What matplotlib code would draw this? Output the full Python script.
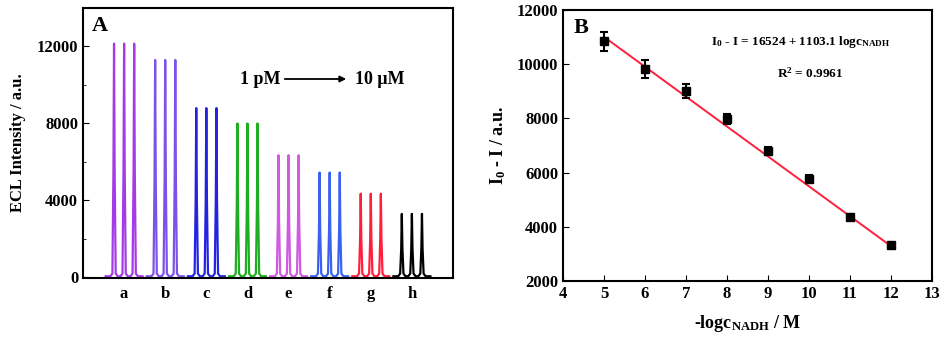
import numpy as np
import matplotlib.pyplot as plt
from matplotlib.ticker import MultipleLocator

# panel A: ECL peak heights for each concentration (three repeat scans)
groups = ["a", "b", "c", "d", "e", "f", "g", "h"]
peak_heights = [12150, 11300, 8800, 8000, 6350, 5450, 4350, 3300]
peak_colors = ["#a53be6", "#7d52e8", "#2424e0", "#1fae1f",
               "#d05be0", "#3a62f0", "#ff1f3d", "#000000"]

# panel B: calibration points
neg_log_c = [5, 6, 7, 8, 9, 10, 11, 12]
delta_i = [10850, 9820, 9020, 7980, 6800, 5780, 4380, 3320]
delta_err = [350, 320, 250, 200, 150, 120, 80, 60]
fit_intercept = 16524
fit_slope = 1103.1

serif = ["Liberation Serif", "DejaVu Serif"]
plt.rcParams["font.family"] = serif
plt.rcParams["font.weight"] = "bold"
plt.rcParams["mathtext.fontset"] = "custom"
plt.rcParams["mathtext.rm"] = "Liberation Serif:bold"
plt.rcParams["mathtext.it"] = "Liberation Serif:bold"
plt.rcParams["mathtext.bf"] = "Liberation Serif:bold"

fig = plt.figure(figsize=(9.44, 3.42), dpi=100)
axA = fig.add_axes([83 / 944, 1 - 278 / 342, 370 / 944, 270 / 342])
axB = fig.add_axes([563 / 944, 1 - 281 / 342, 369 / 944, 271 / 342])

# --- panel A ---
offsets = [-0.245, 0.0, 0.245]
for i, (h, c) in enumerate(zip(peak_heights, peak_colors)):
    center = i + 1
    xs = [center - 0.45]
    ys = [60]
    for off in offsets:
        p = center + off
        xs += [p - 0.09, p - 0.04, p - 0.015, p, p + 0.015, p + 0.04, p + 0.09]
        ys += [60, 200, 0.45 * h, h, 0.45 * h, 200, 60]
    xs.append(center + 0.45)
    ys.append(60)
    axA.plot(xs, ys, color=c, lw=1.6)

axA.set_xlim(0, 9)
axA.set_ylim(-30, 14000)
axA.set_xticks(range(1, 9))
axA.set_xticklabels(groups)
axA.tick_params(axis="x", length=0, labelsize=12, pad=6)
axA.yaxis.set_major_locator(MultipleLocator(4000))
axA.yaxis.set_minor_locator(MultipleLocator(2000))
axA.tick_params(axis="y", which="both", direction="in", labelsize=12)
axA.tick_params(axis="y", which="major", length=4)
axA.tick_params(axis="y", which="minor", length=2.5)
axA.set_ylabel("ECL Intensity / a.u.", fontsize=12, fontweight="bold", labelpad=8)
axA.text(0.025, 0.97, "A", transform=axA.transAxes, fontsize=16,
         fontweight="bold", va="top", ha="left")
axA.annotate("", xy=(349, 342 - 79), xytext=(282, 342 - 79),
             xycoords="figure pixels", textcoords="figure pixels",
             arrowprops=dict(arrowstyle="-|>", color="black", lw=1.3,
                             mutation_scale=9))
fig.text(281 / 944, 1 - 79 / 342, "1 pM", ha="right", va="center",
         fontsize=13, fontweight="bold")
fig.text(355 / 944, 1 - 79 / 342, "10 μM", ha="left", va="center",
         fontsize=13, fontweight="bold")

# --- panel B ---
xfit = np.array([neg_log_c[0], neg_log_c[-1]])
axB.plot(xfit, fit_intercept - fit_slope * xfit, color="#ff1f3d", lw=1.4, zorder=2)
axB.errorbar(neg_log_c, delta_i, yerr=delta_err, fmt="s", color="black",
             ms=6, capsize=3, elinewidth=1.5, capthick=1.5, zorder=3)
axB.set_xlim(4, 13)
axB.set_ylim(2000, 12000)
axB.xaxis.set_major_locator(MultipleLocator(1))
axB.yaxis.set_major_locator(MultipleLocator(2000))
axB.tick_params(direction="in", length=4, labelsize=12)
axB.set_xlabel("-logc$_{\\mathrm{NADH}}$ / M", fontsize=13, fontweight="bold", labelpad=8)
axB.set_ylabel("I$_0$ - I / a.u.", fontsize=13, fontweight="bold", labelpad=6)
axB.text(0.03, 0.97, "B", transform=axB.transAxes, fontsize=16,
         fontweight="bold", va="top", ha="left")
axB.text(0.645, 0.87, "I$_0$ - I = 16524 + 1103.1 logc$_{\\mathrm{NADH}}$",
         transform=axB.transAxes, fontsize=9.5, fontweight="bold", ha="center")
axB.text(0.67, 0.75, "R$^2$ = 0.9961", transform=axB.transAxes,
         fontsize=9.5, fontweight="bold", ha="center")

for ax in (axA, axB):
    for s in ax.spines.values():
        s.set_linewidth(1.5)
    for lab in ax.get_xticklabels() + ax.get_yticklabels():
        lab.set_fontweight("bold")

fig.savefig("out.png", dpi=100)
